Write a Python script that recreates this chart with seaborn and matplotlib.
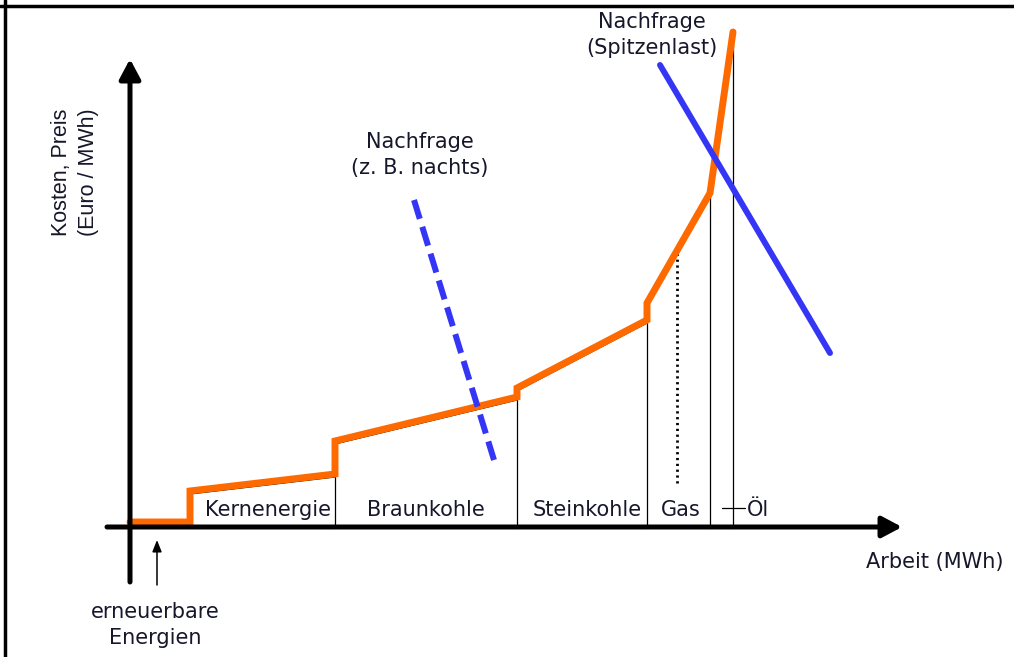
import matplotlib
matplotlib.use("Agg")
import matplotlib.pyplot as plt
import matplotlib.transforms as mtransforms
import seaborn as sns
import pandas as pd

# merit order: cumulative capacity (x) and marginal cost (y), schematic units
supply_x = [0, 60, 60, 205, 205, 387, 387, 517, 517, 580, 603]
supply_y = [5, 5, 36, 53, 86, 130, 139, 207, 224, 334, 495]

block_edges = [205, 387, 517, 580, 603]
block_tops = [53, 130, 207, 334, 495]

block_labels = ["Kernenergie", "Braunkohle", "Steinkohle", "Gas"]
block_label_x = [138, 296, 457, 551]

gas_split_x = 547
gas_split_y = [44, 274]

demand_night_x = [284, 364]
demand_night_y = [327, 67]
demand_peak_x = [530, 700]
demand_peak_y = [462, 174]

ORANGE = "#ff6a00"
BLUE = "#3535f6"
TXT = "#17172c"

sns.set_style("white")
plt.rcParams["font.family"] = ["DejaVu Sans"]

fig = plt.figure(figsize=(10.14, 6.57), dpi=100)
ax = fig.add_axes([0, 0, 1, 1])
ax.set_xlim(-130, 884)
ax.set_ylim(-130, 527)
ax.axis("off")

# frame of the original graphic (top and left only)
ax.axhline(521, color="black", lw=2.5)
ax.axvline(-125, color="black", lw=2.5)

# axes with arrow heads
arrow = dict(arrowstyle="-|>,head_length=0.6,head_width=0.32", lw=3.6,
             color="black", shrinkA=0, shrinkB=0, mutation_scale=20)
ax.annotate("", xy=(0, 468), xytext=(0, -55), arrowprops=arrow)
ax.annotate("", xy=(772, 0), xytext=(-23, 0), arrowprops=arrow)

# thin block outlines, sitting just under the orange curve
low = mtransforms.offset_copy(ax.transData, fig=fig, x=0, y=-3, units="dots")
ax.plot(supply_x, supply_y, color="black", lw=0.9, transform=low)
for bx, bt in zip(block_edges, block_tops):
    ax.plot([bx, bx], [2, bt], color="black", lw=0.9, transform=low)
ax.plot([gas_split_x, gas_split_x], gas_split_y, color="black", lw=2,
        linestyle=(0, (0.8, 1.3)))
ax.plot([592, 615], [19, 19], color="black", lw=0.9)

# supply curve
supply = pd.DataFrame({"x": supply_x, "y": supply_y})
sns.lineplot(data=supply, x="x", y="y", sort=False, estimator=None,
             color=ORANGE, lw=5, ax=ax)
ax.lines[-1].set_solid_joinstyle("miter")

# demand curves
night = pd.DataFrame({"x": demand_night_x, "y": demand_night_y})
sns.lineplot(data=night, x="x", y="y", sort=False, estimator=None,
             color=BLUE, lw=4.3, ax=ax)
ax.lines[-1].set_linestyle((0, (3.3, 1.4)))
ax.lines[-1].set_dash_capstyle("butt")
peak = pd.DataFrame({"x": demand_peak_x, "y": demand_peak_y})
sns.lineplot(data=peak, x="x", y="y", sort=False, estimator=None,
             color=BLUE, lw=4.3, ax=ax)

# labels
fs = 15
for lab, lx in zip(block_labels, block_label_x):
    ax.text(lx, 17, lab, ha="center", va="center", fontsize=fs, color=TXT)
ax.text(617, 17, "Öl", ha="left", va="center", fontsize=fs, color=TXT)

ax.annotate("", xy=(27, -13), xytext=(27, -58),
            arrowprops=dict(arrowstyle="-|>,head_length=0.5,head_width=0.2",
                            lw=1.1, color="black", shrinkA=0, shrinkB=0,
                            mutation_scale=14))
ax.text(25, -98, "erneuerbare\nEnergien", ha="center", va="center",
        fontsize=fs, color=TXT, linespacing=1.4)
ax.text(290, 372, "Nachfrage\n(z. B. nachts)", ha="center", va="center",
        fontsize=fs, color=TXT, linespacing=1.4)
ax.text(522, 492, "Nachfrage\n(Spitzenlast)", ha="center", va="center",
        fontsize=fs, color=TXT, linespacing=1.35)
ax.text(805, -35, "Arbeit (MWh)", ha="center", va="center",
        fontsize=fs, color=TXT)
ax.text(-55, 355, "Kosten, Preis\n(Euro / MWh)", ha="center", va="center",
        rotation=90, fontsize=15.5, color=TXT, linespacing=1.4,
        family="Liberation Sans")

fig.savefig("out.png", dpi=100)
